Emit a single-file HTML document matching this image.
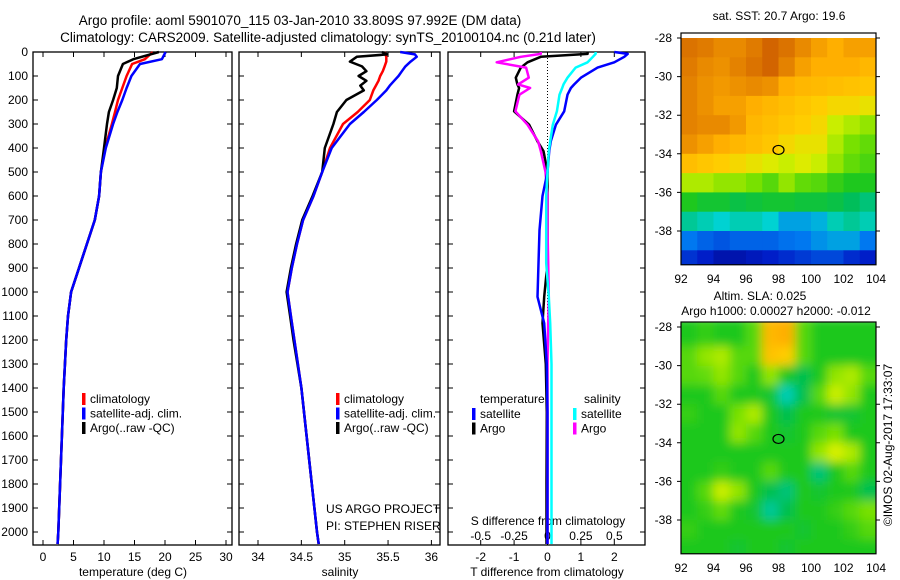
<!DOCTYPE html>
<html><head><meta charset="utf-8"><style>
html,body{margin:0;padding:0;background:#fff;}
svg{display:block;font-family:"Liberation Sans",sans-serif;}
text{font-size:12px;fill:#000;}
</style></head><body>
<svg id="c" width="900" height="580" viewBox="0 0 900 580">
<text x="300" y="25" text-anchor="middle" style="font-size:13.5px">Argo profile: aoml 5901070_115 03-Jan-2010 33.809S 97.992E (DM data)</text>
<text x="328" y="42" text-anchor="middle" style="font-size:13.5px">Climatology: CARS2009. Satellite-adjusted climatology: synTS_20100104.nc (0.21d later)</text>
<g id="g"></g>
</svg>
<script>
// ---- temperature profiles (depth m, deg C)
const tDepth = [0,30,50,100,150,200,250,300,400,500,600,700,800,900,1000,1100,1200,1400,1600,1800,2000,2050];
const tClim  = [18.0,16.7,14.6,13.7,13.0,12.3,11.8,11.3,10.2,9.5,9.2,8.5,7.2,5.9,4.6,4.1,3.8,3.4,3.1,2.8,2.5,2.4];
const tSat   = [20.1,19.5,15.9,14.5,13.7,13.0,12.2,11.5,10.3,9.5,9.2,8.5,7.2,5.9,4.6,4.1,3.8,3.4,3.1,2.8,2.5,2.4];
const tArgo  = [19.0,14.8,13.1,12.3,12.1,11.5,10.8,10.5,10.0,9.5,9.2,8.5,7.2,5.9,4.6,4.1,3.8,3.4,3.1,2.8,2.5,2.4];
// ---- salinity profiles
const sDepth = [0,10,20,40,60,80,100,120,140,160,200,250,300,400,500,600,700,800,900,1000,1100,1200,1400,1600,1800,2000,2050];
const sClim  = [35.46,35.47,35.48,35.48,35.46,35.44,35.41,35.39,35.36,35.33,35.29,35.15,34.98,34.83,34.74,34.64,34.52,34.45,34.39,34.34,34.38,34.42,34.50,34.56,34.62,34.68,34.70];
const sSat   = [35.64,35.81,35.83,35.76,35.70,35.66,35.62,35.57,35.52,35.48,35.37,35.22,35.06,34.85,34.74,34.64,34.52,34.45,34.39,34.34,34.38,34.42,34.50,34.56,34.62,34.68,34.70];
const sArgo  = [35.43,35.49,35.14,35.06,35.20,35.25,35.16,35.25,35.18,35.22,35.02,34.91,34.87,34.77,34.74,34.63,34.51,34.44,34.38,34.33,34.37,34.41,34.50,34.56,34.62,34.68,34.70];
// ---- differences from climatology
const dDepth = [0,8,20,43,65,107,135,150,178,247,303,372,413,500,600,742,880,1020,1130,1300,1500,1800,2050];
const dTSat  = [2.0,2.4,2.3,2.0,1.5,1.0,0.8,0.7,0.6,0.5,0.25,0.1,0.05,0,-0.15,-0.24,-0.27,-0.3,-0.1,-0.02,0,0,0];
const dTArgo = [1.2,1.2,-0.2,-0.6,-0.8,-0.95,-0.9,-0.85,-0.9,-1.0,-0.55,-0.3,-0.12,0,0,0,0,-0.1,-0.15,-0.05,-0.02,-0.03,-0.03];
const dSSat  = [0.36,0.36,0.34,0.3,0.21,0.15,0.12,0.11,0.09,0.07,0.04,0.02,0.01,0,-0.01,-0.01,-0.01,0.01,0.02,0.03,0.03,0.03,0.03];
const dSArgo = [-0.05,-0.05,-0.2,-0.38,-0.16,-0.14,-0.22,-0.13,-0.21,-0.24,-0.15,-0.07,-0.05,-0.015,0,0,0.005,0.01,0.005,0,0,0,0];
// ---- maps (rows lat -28.5 .. -39.5, cols lon 92.5 .. 103.5), colormap position 0..1
const sstGrid = [
[.88,.87,.85,.85,.87,.9,.88,.85,.82,.8,.82,.82],
[.87,.85,.84,.86,.88,.9,.86,.82,.8,.8,.8,.78],
[.86,.84,.83,.84,.85,.84,.8,.78,.77,.76,.75,.74],
[.86,.84,.82,.82,.8,.78,.76,.74,.72,.7,.7,.68],
[.86,.85,.85,.83,.78,.76,.74,.72,.7,.64,.62,.6],
[.84,.82,.8,.78,.76,.74,.7,.68,.68,.62,.58,.56],
[.76,.74,.72,.7,.68,.66,.64,.66,.64,.6,.56,.54],
[.62,.62,.6,.6,.58,.55,.6,.56,.55,.52,.5,.5],
[.5,.48,.48,.46,.47,.48,.48,.47,.47,.46,.44,.42],
[.4,.38,.36,.38,.38,.36,.3,.3,.32,.38,.4,.38],
[.25,.22,.2,.22,.22,.22,.24,.25,.28,.3,.3,.25],
[.15,.12,.08,.08,.1,.12,.14,.16,.18,.18,.14,.12]];
const slaGrid = [
[.5,.52,.5,.5,.55,.78,.8,.55,.5,.5,.5,.5],
[.55,.6,.62,.55,.55,.75,.72,.55,.5,.5,.5,.5],
[.55,.56,.6,.55,.5,.6,.5,.45,.5,.6,.62,.55],
[.5,.5,.55,.5,.5,.48,.38,.45,.55,.64,.6,.5],
[.52,.5,.5,.58,.62,.5,.45,.5,.5,.48,.48,.5],
[.5,.5,.5,.6,.55,.5,.48,.5,.55,.58,.5,.5],
[.5,.5,.5,.5,.5,.5,.5,.5,.6,.65,.62,.5],
[.5,.5,.52,.5,.5,.55,.5,.5,.42,.5,.55,.5],
[.5,.55,.64,.6,.5,.45,.42,.5,.48,.5,.5,.45],
[.5,.52,.56,.5,.48,.4,.45,.5,.5,.52,.55,.58],
[.52,.5,.5,.5,.5,.5,.5,.48,.5,.5,.52,.55],
[.5,.5,.5,.48,.5,.5,.48,.5,.5,.5,.5,.5]];
const depthTicks = [0,100,200,300,400,500,600,700,800,900,1000,1100,1200,1300,1400,1500,1600,1700,1800,1900,2000];
const tempTicks = [0,5,10,15,20,25,30];
const salTicks = [34,34.5,35,35.5,36];
const dtTicks = [-2,-1,0,1,2];
const dsTicks = [-0.5,-0.25,0,0.25,0.5];
const latTicks = [-28,-30,-32,-34,-36,-38];
const lonTicks = [92,94,96,98,100,102,104];

const NS="http://www.w3.org/2000/svg", G=document.getElementById('g');
function mk(tag,attrs,txt){const e=document.createElementNS(NS,tag);for(const k in attrs)e.setAttribute(k,attrs[k]);if(txt!==undefined)e.textContent=txt;G.appendChild(e);return e;}
const Y=d=>52+d*0.24;
const xT=t=>43+t*6.1, xS=s=>258+(s-34)*86.7, xDT=v=>547.5+v*33.4, xDS=v=>547.5+v*133.6;
const panels=[[33,232],[239,440],[448,645]];
const TOP=52,BOT=545;
panels.forEach((p,i)=>{
  const r=mk('rect',{x:p[0],y:TOP,width:p[1]-p[0],height:BOT-TOP,fill:'none',stroke:'#000','stroke-width':1.3});
  
  
  depthTicks.forEach(d=>{
    const l=mk('path',{d:`M${p[0]},${Y(d)}h5M${p[1]},${Y(d)}h-5`,stroke:'#000'});
    
    
  });
});
depthTicks.forEach(d=>{
  const t=mk('text',{x:28,y:Y(d)+4,'text-anchor':'end'},String(d));
  
  
});
function xticks(vals,fx,p,ly,lbl,top){
  vals.forEach(v=>{
    const x=fx(v);
    const l=mk('path',{d:`M${x},${BOT}v-5`+(top?`M${x},${TOP}v5`:''),stroke:'#000'});
    
    
    const t=mk('text',{x:x,y:ly,'text-anchor':'middle'},lbl?lbl(v):String(v));
    
    
  });
}
xticks(tempTicks,xT,panels[0],561,null,true);
xticks(salTicks,xS,panels[1],561,null,true);
xticks(dtTicks,xDT,panels[2],561,null,true);
dsTicks.forEach(v=>{const t=mk('text',{x:xDS(v),y:540,'text-anchor':'middle'},String(v));
  
  });
[['temperature (deg C)',133,'x-axis-title-temperature'],['salinity',340,'x-axis-title-salinity'],['T difference from climatology',547,'x-axis-title-t-diff']].forEach(a=>{
  const t=mk('text',{x:a[1],y:576,'text-anchor':'middle'},a[0]);
  
  
});
const st=mk('text',{x:548,y:525,'text-anchor':'middle'},'S difference from climatology');


const zl=mk('line',{x1:547.5,y1:TOP,x2:547.5,y2:BOT,stroke:'#000','stroke-dasharray':'1 2'});



function line(depths,vals,fx,col,name,w){
  const pts=depths.map((d,i)=>fx(vals[i]).toFixed(1)+','+Y(d).toFixed(1)).join(' ');
  const e=mk('polyline',{points:pts,fill:'none',stroke:col,'stroke-width':w||2.5,'stroke-linejoin':'round'});
  
  
}
line(tDepth,tClim,xT,'#f00','temp-climatology-line');
line(tDepth,tArgo,xT,'#000','temp-argo-line');
line(tDepth,tSat,xT,'#00f','temp-satellite-line');
line(sDepth,sClim,xS,'#f00','sal-climatology-line');
line(sDepth,sArgo,xS,'#000','sal-argo-line');
line(sDepth,sSat,xS,'#00f','sal-satellite-line');
line(dDepth,dTArgo,xDT,'#000','tdiff-argo-line');
line(dDepth,dSArgo,xDS,'#f0f','sdiff-argo-line');
line(dDepth,dTSat,xDT,'#00f','tdiff-satellite-line');
line(dDepth,dSSat,xDS,'#0ff','sdiff-satellite-line');

function legend(x,y,items,pref){
  items.forEach((it,i)=>{
    const r=mk('rect',{x:x,y:y+i*14.5-10,width:3.5,height:12,fill:it[1]});
    
    
    const t=mk('text',{x:x+8,y:y+i*14.5},it[0]);
    
    
  });
}
legend(82,403,[['climatology','#f00'],['satellite-adj. clim.','#00f'],['Argo(..raw -QC)','#000']],'temp-legend');
legend(336,403,[['climatology','#f00'],['satellite-adj. clim.','#00f'],['Argo(..raw -QC)','#000']],'sal-legend');
legend(472,418,[['satellite','#00f'],['Argo','#000']],'tdiff-legend');
legend(573,418,[['satellite','#0ff'],['Argo','#f0f']],'sdiff-legend');
[['temperature',480,'tdiff-legend-title'],['salinity',584,'sdiff-legend-title']].forEach(a=>{
  const t=mk('text',{x:a[1],y:403},a[0]);});
[['US ARGO PROJECT',513,'project-credit'],['PI: STEPHEN RISER',530,'pi-credit']].forEach(a=>{
  const t=mk('text',{x:326,y:a[1]},a[0]);});

// colormap
const stops=[[0,[0,0,120]],[0.12,[0,30,200]],[0.25,[0,120,240]],[0.36,[0,210,210]],[0.44,[0,190,90]],[0.5,[30,200,30]],[0.58,[120,225,0]],[0.65,[215,240,0]],[0.72,[255,205,0]],[0.8,[255,175,0]],[0.9,[210,100,0]],[1,[160,50,0]]];
function cmap(v){for(let i=1;i<stops.length;i++){if(v<=stops[i][0]){const a=stops[i-1],b=stops[i],f=(v-a[0])/(b[0]-a[0]);return 'rgb('+a[1].map((c,k)=>Math.round(c+(b[1][k]-c)*f)).join(',')+')';}}return 'rgb(160,50,0)';}
const LX=lon=>681+(lon-92)*16.25;
function map(grid,yTop,name,blur){
  const LY=lat=>yTop+(-28-lat)*19.3+5;
  const g=mk('g',{'clip-path':'url(#clip'+name+')'});
  const defs=mk('defs',{});
  const cp=document.createElementNS(NS,'clipPath');cp.setAttribute('id','clip'+name);
  const cr=document.createElementNS(NS,'rect');cr.setAttribute('x',681);cr.setAttribute('y',yTop);cr.setAttribute('width',195);cr.setAttribute('height',LY(-39.75)-yTop);
  cp.appendChild(cr);defs.appendChild(cp);
  if(blur){const f=document.createElementNS(NS,'filter');f.setAttribute('id','bl');f.innerHTML='<feGaussianBlur stdDeviation="5"/>';defs.appendChild(f);}
  const inner=document.createElementNS(NS,'g');if(blur)inner.setAttribute('filter','url(#bl)');g.appendChild(inner);
  grid.forEach((row,r)=>row.forEach((v,c)=>{
    const e=document.createElementNS(NS,'rect');
    e.setAttribute('x',LX(92+c)-(blur&&c==0?10:0));e.setAttribute('y',LY(-28-r)-(blur&&r==0?10:0));
    e.setAttribute('width',16.6+(blur&&(c==0||c==11)?10:0));e.setAttribute('height',19.6+(blur&&(r==0||r==11)?10:0));e.setAttribute('fill',cmap(v));
    
    
    inner.appendChild(e);
  }));
  
  
  const fr=mk('rect',{x:681,y:yTop,width:195,height:LY(-39.75)-yTop,fill:'none',stroke:'#000','stroke-width':1.2});
  
  
  latTicks.forEach(l=>{const p=mk('path',{d:`M681,${LY(l)}h-4M876,${LY(l)}h4`,stroke:'#000'});
    
    const t=mk('text',{x:672,y:LY(l)+4,'text-anchor':'end'},String(l));
    });
  const yb=LY(-39.75);
  lonTicks.forEach(l=>{const t=mk('text',{x:LX(l),y:yb+18,'text-anchor':'middle'},String(l));
    });
  const ci=mk('ellipse',{cx:LX(98),cy:LY(-33.8),rx:5.5,ry:4.5,fill:'none',stroke:'#000','stroke-width':1.2});
  
  
}
map(sstGrid,33,'sst-map',false);
map(slaGrid,322,'sla-map',true);
[['sat. SST: 20.7  Argo: 19.6',779,20,'sst-map-title'],['Altim. SLA: 0.025',760,300,'sla-map-title'],['Argo h1000: 0.00027 h2000: -0.012',776,315,'sla-map-subtitle']].forEach(a=>{
  const t=mk('text',{x:a[1],y:a[2],'text-anchor':'middle'},a[0]);});
const cp=mk('text',{x:892,y:445,'text-anchor':'middle',transform:'rotate(-90 892 445)'},'©IMOS 02-Aug-2017 17:33:07');


</script>
</body></html>
